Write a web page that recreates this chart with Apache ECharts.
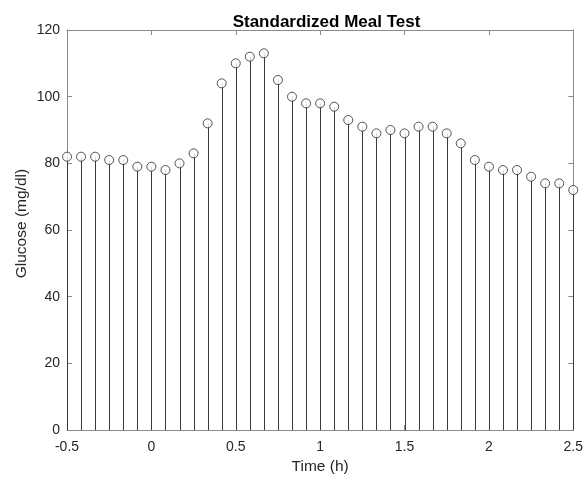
<!DOCTYPE html>
<html>
<head>
<meta charset="utf-8">
<script src="https://cdn.jsdelivr.net/npm/echarts@6/dist/echarts.min.js"></script>
<style>
  html, body { margin: 0; padding: 0; background: #fff; }
  #chart { width: 586px; height: 480px; }
</style>
</head>
<body>
<div id="chart"></div>
<script>
// Sample times in minutes relative to the meal (5-minute sampling)
const minutes = [-30, -25, -20, -15, -10, -5, 0, 5, 10, 15, 20, 25, 30, 35, 40, 45, 50, 55,
                 60, 65, 70, 75, 80, 85, 90, 95, 100, 105, 110, 115, 120, 125, 130, 135, 140, 145, 150];
// Blood glucose readings (mg/dl)
const glucose = [82, 82, 82, 81, 81, 79, 79, 78, 80, 83, 92, 104, 110, 112, 113, 105, 100, 98,
                 98, 97, 93, 91, 89, 90, 89, 91, 91, 89, 86, 81, 79, 78, 78, 76, 74, 74, 72];
const xTicks = [-0.5, 0, 0.5, 1, 1.5, 2, 2.5];
const yTicks = [0, 20, 40, 60, 80, 100, 120];

const points = minutes.map((m, i) => [m / 60, glucose[i]]);

const FONT = 'Liberation Sans, Arial, Helvetica, sans-serif';
const AXIS_COLOR = '#8a8a8a';
const TEXT_COLOR = '#262626';

const chart = echarts.init(document.getElementById('chart'), null, { renderer: 'canvas' });

const baseTick = { show: true, inside: true, length: 5, lineStyle: { color: AXIS_COLOR, width: 1 } };

chart.setOption({
  animation: false,
  backgroundColor: '#fff',
  title: {
    text: 'Standardized Meal Test',
    left: 321.5,
    top: 9,
    textAlign: 'center',
    textStyle: { fontFamily: FONT, fontSize: 17, fontWeight: 'bold', color: '#000' }
  },
  grid: { left: 67, right: 10, top: 30, bottom: 48, containLabel: false },
  xAxis: [
    {
      type: 'value',
      min: xTicks[0],
      max: xTicks[xTicks.length - 1],
      interval: 0.5,
      name: 'Time (h)',
      nameLocation: 'middle',
      nameGap: 27,
      nameTextStyle: { fontFamily: FONT, fontSize: 15.5, color: TEXT_COLOR },
      axisLine: { show: true, onZero: false, lineStyle: { color: AXIS_COLOR, width: 1 } },
      axisTick: baseTick,
      axisLabel: { fontFamily: FONT, fontSize: 14, color: TEXT_COLOR, margin: 10 },
      splitLine: { show: false }
    },
    {
      type: 'value',
      position: 'top',
      min: xTicks[0],
      max: xTicks[xTicks.length - 1],
      interval: 0.5,
      axisLine: { show: true, onZero: false, lineStyle: { color: AXIS_COLOR, width: 1 } },
      axisTick: baseTick,
      axisLabel: { show: false },
      splitLine: { show: false }
    }
  ],
  yAxis: [
    {
      type: 'value',
      min: yTicks[0],
      max: yTicks[yTicks.length - 1],
      interval: 20,
      name: 'Glucose (mg/dl)',
      nameLocation: 'middle',
      nameGap: 37,
      nameMoveOverlap: false,
      nameTextStyle: { fontFamily: FONT, fontSize: 15.5, color: TEXT_COLOR, padding: [0, 0, 0, 13] },
      axisLine: { show: true, onZero: false, lineStyle: { color: AXIS_COLOR, width: 1 } },
      axisTick: baseTick,
      axisLabel: { fontFamily: FONT, fontSize: 14, color: TEXT_COLOR, margin: 7 },
      splitLine: { show: false }
    },
    {
      type: 'value',
      position: 'right',
      min: yTicks[0],
      max: yTicks[yTicks.length - 1],
      interval: 20,
      axisLine: { show: true, onZero: false, lineStyle: { color: AXIS_COLOR, width: 1 } },
      axisTick: baseTick,
      axisLabel: { show: false },
      splitLine: { show: false }
    }
  ],
  series: [
    {
      // vertical stems from the baseline up to each reading
      type: 'custom',
      xAxisIndex: 0,
      yAxisIndex: 0,
      data: points,
      renderItem: function (params, api) {
        const top = api.coord([api.value(0), api.value(1)]);
        const base = api.coord([api.value(0), 0]);
        const x = Math.round(top[0]) + 0.5;
        return {
          type: 'line',
          shape: { x1: x, y1: base[1], x2: x, y2: top[1] },
          style: { stroke: '#3a3a3a', lineWidth: 1 }
        };
      },
      z: 2
    },
    {
      // hollow circle markers at each reading
      type: 'scatter',
      xAxisIndex: 0,
      yAxisIndex: 0,
      data: points,
      symbol: 'circle',
      symbolSize: 9,
      itemStyle: { color: '#fff', borderColor: '#2a2a2a', borderWidth: 1 },
      z: 3
    }
  ]
});
</script>
</body>
</html>
